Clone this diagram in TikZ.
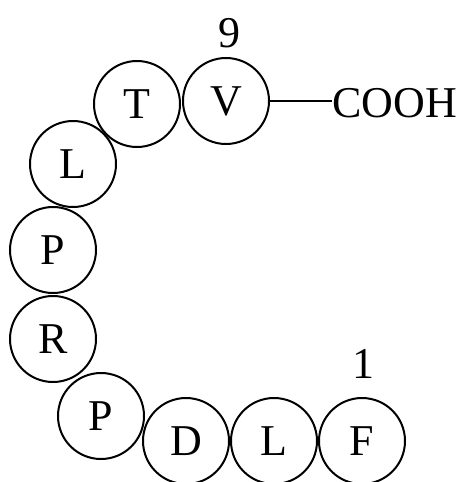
\documentclass[tikz,border=0pt]{standalone}
\usepackage{fontspec}
\setmainfont{Liberation Serif}
\begin{document}
\begin{tikzpicture}[x=1pt,y=-1pt,
  res/.style={circle,draw,line width=2pt,minimum size=86pt,inner sep=0pt,font=\fontsize{44}{44}\selectfont},
  lbl/.style={inner sep=0pt,font=\fontsize{44}{44}\selectfont}]
\useasboundingbox (0,0) rectangle (460,482);
\node[res] (V) at (226,101) {V};
\node[res] (T) at (137,104) {T};
\node[res] (L1) at (73,164) {L};
\node[res] (P1) at (53,250) {P};
\node[res] (R) at (53,339) {R};
\node[res] (P2) at (101,416) {P};
\node[res] (D) at (186,441) {D};
\node[res] (L2) at (274,441) {L};
\node[res] (F) at (362,441) {F};
\node[lbl,anchor=west] (C) at (332,103) {COOH};
\node[lbl] (n9) at (229,33) {9};
\node[lbl] (n1) at (363,364) {1};
\draw[line width=2pt] (V.east) -- (C.west |- V.east);
\end{tikzpicture}
\end{document}
